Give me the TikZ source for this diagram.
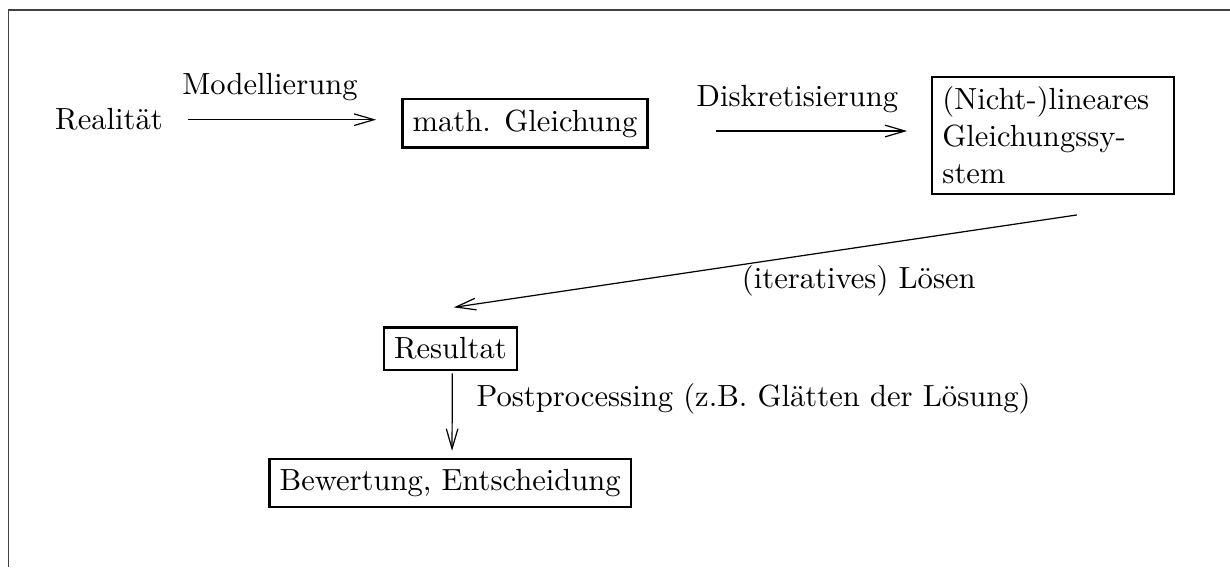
\documentclass[tikz,border=0pt]{standalone}
\usepackage{tikz}
\usetikzlibrary{arrows.meta,positioning,calc}

\tikzset{
  kasten/.style={draw, line width=0.8pt, inner sep=3.33pt},
  pfeil/.style={-{Straight Barb[length=6.5pt,width=3.8pt]}, line width=0.4pt},
  rahmen/.style={line width=0.5pt, black!75}
}

\begin{document}
\begin{tikzpicture}
\useasboundingbox (0,0) rectangle (14.128,-6.513);

% Rahmen
\draw[rahmen] (0.098,-6.513) -- (0.098,-0.115) -- (14.128,-0.115);

% Knoten
\node[anchor=base] (real) at (1.252,-1.493) {Realität};
\node[kasten] (math) at (6.030,-1.417) {math. Gleichung};
\node[kasten, text width=2.54cm, align=left] (sys) at (12.095,-1.554) {(Nicht-)lineares\\Gleichungssy-\\stem};
\node[kasten] (res) at (5.174,-4.005) {Resultat};
\node[kasten] (bew) at (5.171,-5.548) {Bewertung, Entscheidung};

% Pfeile
\coordinate (d1) at (8.224,-1.505);
\draw[pfeil] ([xshift=4.8pt]real.east) -- ([xshift=-8.2pt]real.east -| math.west);
\draw[pfeil] (d1) -- ([xshift=-7.8pt]d1 -| sys.west);
\draw[pfeil] ([shift={(7.8pt,-6.5pt)}]sys.south) -- node[pos=0.35, below=2.3pt] (loes) {(iteratives) Lösen} ([shift={(1.1pt,6.2pt)}]res.north);
\draw[pfeil, shorten <=0.8pt, shorten >=2.3pt] ([xshift=0.6pt]res.south) -- ([xshift=0.6pt]bew.north);

% Beschriftungen
\node[anchor=base] (mod) at (3.101,-1.091) {Modellierung};
\node[anchor=base] (disk) at (9.160,-1.229) {Diskretisierung};
\node[anchor=base west] (post) at (5.350,-4.671) {Postprocessing (z.B. Glätten der Lösung)};

\end{tikzpicture}
\end{document}
